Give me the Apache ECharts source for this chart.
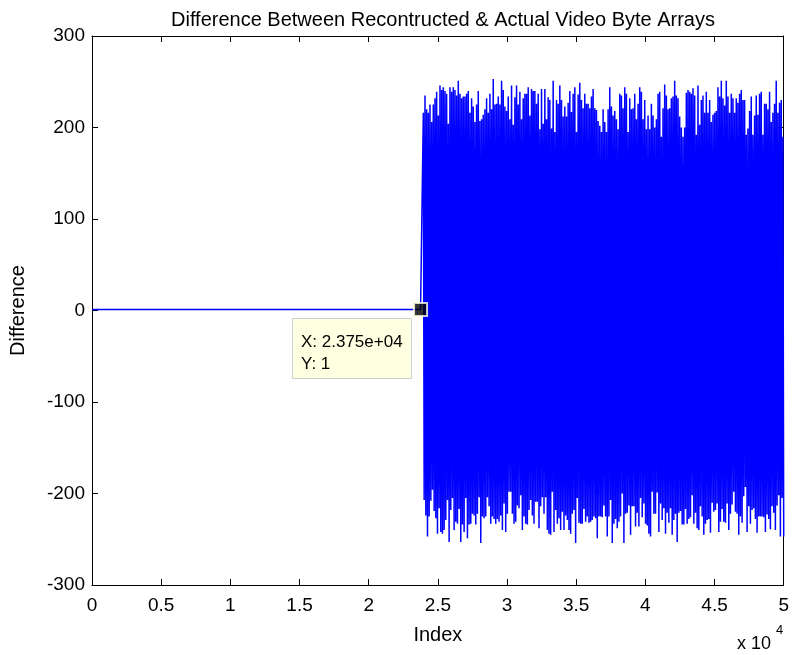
<!DOCTYPE html>
<html><head><meta charset="utf-8">
<script src="https://cdn.jsdelivr.net/npm/echarts@6/dist/echarts.min.js"></script>
<style>html,body{margin:0;padding:0;background:#fff}#c{width:792px;height:655px}</style>
</head><body><div id="c"></div>
<script>
const titleText = 'Difference Between Recontructed & Actual Video Byte Arrays';
const xAxisName = 'Index';
const yAxisName = 'Difference';
const xTickStep = 5000;
const yTickStep = 100;
const xMin = 0, xMax = 50000, yMin = -300, yMax = 300;

// flat region (indices, values)
const flatIndex = [1, 23750];
const flatValues = [1, 1];

// noisy region extent (sample indices)
const noiseStartIndex = 23950;
const noiseEndIndex = 50000;

// upper peaks, left to right
const upperPeaks = [
216,235,220,216,225,206,225,232,239,213,246,241,244,240,237,204,244,239,244,241,235,251,237,232,234,234,237,240,216,232,223,206,225,240,207,209,214,220,232,216,237,220,253,225,226,234,225,251,241,223,218,234,209,246,203,233,246,225,239,209,232,237,237,244,213,242,240,240,226,237,198,242,204,242,209,233,230,199,251,195,230,226,246,230,212,223,212,227,240,217,237,244,195,236,249,230,221,237,226,226,221,234,242,221,219,207,202,195,220,
206,195,220,244,223,213,218,209,198,237,235,221,244,237,195,232,220,221,237,209,226,244,239,209,230,198,213,198,226,213,200,209,237,239,190,221,247,235,220,221,232,234,251,235,232,212,200,190,200,238,241,239,237,243,235,192,246,203,230,235,216,239,216,230,206,214,216,218,244,234,251,232,224,251,234,216,237,232,216,232,227,237,241,230,230,192,199,218,234,192,213,235,214,237,239,192,226,226,220,239,206,216,226,251,216,227,230,190,235,216
];
// lower troughs, left to right
const lowerTroughs = [
-207,-224,-247,-225,-208,-196,-219,-227,-244,-216,-242,-244,-240,-229,-207,-253,-218,-205,-240,-231,-233,-217,-253,-234,-242,-205,-249,-234,-233,-222,-224,-234,-222,-204,-254,-225,-227,-225,-204,-214,-233,-225,-228,-233,-228,-231,-224,-240,-211,-242,-222,-198,-198,-222,-233,-231,-213,-216,-202,-240,-225,-233,-234,-218,-207,-224,-233,-209,-209,-238,-214,-204,-222,-204,-240,-244,-245,-198,-242,-218,-233,-227,-240,-220,-240,-224,-229,-240,-244,-222,-218,-254,-205,-232,-233,-233,-217,-231,-225,-232,-231,-229,-225,-227,-249,-225,-225,-226,
-213,-225,-247,-225,-207,-254,-233,-228,-238,-231,-225,-200,-254,-222,-221,-213,-245,-214,-214,-236,-221,-236,-205,-226,-211,-233,-235,-244,-247,-198,-222,-222,-199,-242,-211,-229,-216,-244,-221,-232,-216,-245,-229,-222,-253,-221,-219,-234,-234,-217,-233,-228,-226,-202,-233,-221,-238,-240,-214,-225,-245,-233,-229,-228,-243,-210,-220,-218,-211,-242,-231,-217,-231,-232,-211,-240,-222,-212,-198,-220,-222,-245,-225,-232,-203,-193,-242,-214,-233,-218,-216,-228,-243,-225,-225,-225,-226,-242,-223,-228,-239,-214,-221,-240,-213,-202,-247,-205,-247
];

// data tip
const tipIndex = 23750;
const tipValue = 1;
const tipLines = ['X: 2.375e+04', 'Y: 1'];

const FONT = '"Liberation Sans", Arial, Helvetica, sans-serif';

// build series data
const lineData = [];
for (let i = 0; i < flatIndex.length; i++) lineData.push([flatIndex[i], flatValues[i]]);
const n = Math.min(upperPeaks.length, lowerTroughs.length);
const total = 2 * n;
const step = (noiseEndIndex - noiseStartIndex) / (total - 1);
for (let i = 0; i < n; i++) {
  lineData.push([noiseStartIndex + (2 * i) * step, upperPeaks[i]]);
  lineData.push([noiseStartIndex + (2 * i + 1) * step, lowerTroughs[i]]);
}

const chart = echarts.init(document.getElementById('c'), null, {renderer: 'canvas'});

const axisCommon = {
  axisLine: {show: true, onZero: false, lineStyle: {color: '#000', width: 1}},
  axisTick: {show: true, inside: true, length: 6, lineStyle: {color: '#000', width: 1}},
  splitLine: {show: false}
};

const exponentGraphics = [
  {type: 'text', left: 737, top: 635,
   style: {text: 'x 10', fontFamily: FONT, fontSize: 18, fill: '#000'}},
  {type: 'text', left: 776, top: 624,
   style: {text: '4', fontFamily: FONT, fontSize: 13, fill: '#000'}}
];

chart.setOption({
  animation: false,
  backgroundColor: '#fff',
  title: {
    text: titleText, left: 438, textAlign: 'center', top: 5,
    textStyle: {fontFamily: FONT, fontSize: 20, fontWeight: 'normal', color: '#000'}
  },
  grid: {left: 91, right: 6, top: 36, bottom: 70, containLabel: false},
  xAxis: [
    Object.assign({
      type: 'value', min: xMin, max: xMax, interval: xTickStep, position: 'bottom',
      name: xAxisName, nameLocation: 'middle', nameGap: 40,
      nameTextStyle: {fontFamily: FONT, fontSize: 20, color: '#000'},
      axisLabel: {fontFamily: FONT, fontSize: 19, color: '#000', margin: 11,
        formatter: v => String(v / 10000)}
    }, axisCommon),
    Object.assign({
      type: 'value', min: xMin, max: xMax, interval: xTickStep, position: 'top',
      axisLabel: {show: false}
    }, axisCommon)
  ],
  yAxis: [
    Object.assign({
      type: 'value', min: yMin, max: yMax, interval: yTickStep, position: 'left',
      name: yAxisName, nameLocation: 'middle', nameGap: 64, nameRotate: 90,
      nameTextStyle: {fontFamily: FONT, fontSize: 20, color: '#000'},
      axisLabel: {fontFamily: FONT, fontSize: 19, color: '#000', margin: 7}
    }, axisCommon),
    Object.assign({
      type: 'value', min: yMin, max: yMax, interval: yTickStep, position: 'right',
      axisLabel: {show: false}
    }, axisCommon)
  ],
  series: [
    {
      type: 'line', data: lineData, showSymbol: false, symbol: 'none', sampling: false,
      lineStyle: {color: '#0000ff', width: 1.5}, itemStyle: {color: '#0000ff'},
      clip: true, z: 2
    },
    {
      type: 'scatter', data: [[tipIndex, tipValue]], symbol: 'rect', symbolSize: 13,
      itemStyle: {color: '#000', borderColor: '#ffffe1', borderWidth: 2}, z: 5
    }
  ],
  graphic: exponentGraphics
});

const p = chart.convertToPixel({xAxisIndex: 0, yAxisIndex: 0}, [tipIndex, tipValue]);
chart.setOption({
  graphic: exponentGraphics.concat([
    {
      type: 'rect', z: 10,
      shape: {x: Math.round(p[0]) - 128.5, y: Math.round(p[1]) + 8.5, width: 119, height: 60},
      style: {fill: '#ffffe1', stroke: '#cfcfcf', lineWidth: 1}
    },
    {
      type: 'text', z: 11,
      x: Math.round(p[0]) - 120, y: Math.round(p[1]) + 21,
      style: {text: tipLines.join('\n'), fontFamily: FONT, fontSize: 17, lineHeight: 22, fill: '#000'}
    }
  ])
}, {replaceMerge: ['graphic']});
</script></body></html>
